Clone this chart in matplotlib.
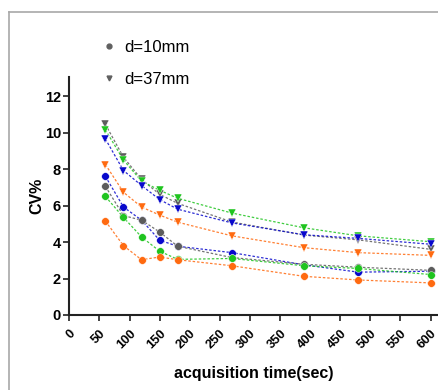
import numpy as np
import matplotlib
matplotlib.use("Agg")
import matplotlib.pyplot as plt
from matplotlib.lines import Line2D

plt.rcParams["font.family"] = ["Liberation Sans", "DejaVu Sans"]

# acquisition times (sec)
times = [60, 90, 120, 150, 180, 270, 390, 480, 600]

# CV% for d=10mm (circles)
gray_10 = [7.05, 5.45, 5.2, 4.55, 3.77, 3.15, 2.78, 2.62, 2.45]
blue_10 = [7.6, 5.92, 5.2, 4.1, 3.77, 3.42, 2.75, 2.35, 2.4]
green_10 = [6.5, 5.35, 4.28, 3.5, 3.05, 3.1, 2.7, 2.55, 2.22]
orange_10 = [5.15, 3.8, 3.03, 3.18, 3.03, 2.7, 2.12, 1.92, 1.76]

# CV% for d=37mm (triangles)
gray_37 = [10.45, 8.65, 7.43, 6.62, 6.12, 5.1, 4.38, 4.12, 3.6]
green_37 = [10.15, 8.5, 7.34, 6.84, 6.4, 5.59, 4.78, 4.34, 4.02]
blue_37 = [9.65, 7.92, 7.1, 6.33, 5.8, 5.05, 4.4, 4.2, 3.88]
orange_37 = [8.25, 6.73, 5.92, 5.48, 5.09, 4.34, 3.69, 3.42, 3.27]

xticks = list(range(0, 601, 50))
yticks = list(range(0, 13, 2))

colors = {"gray": "#5c5c5c", "blue": "#0808cc", "green": "#1fc41f", "orange": "#ff6a10"}

fig = plt.figure(figsize=(4.39, 3.90), dpi=100)
ax = fig.add_axes([69.3 / 439, 1 - 315 / 390, 1 - 69.3 / 439, (315 - 77) / 390])

series = [
    (gray_37, "gray", "v"), (green_37, "green", "v"), (blue_37, "blue", "v"), (orange_37, "orange", "v"),
    (blue_10, "blue", "o"), (gray_10, "gray", "o"), (green_10, "green", "o"), (orange_10, "orange", "o"),
]
for vals, c, m in series:
    ax.plot(times, vals, linestyle=(0, (2, 1.5)), linewidth=0.9, color=colors[c], alpha=0.85)
    ax.plot(times, vals, linestyle="none", marker=m, markersize=6.3 if m == "v" else 5.5,
            color=colors[c], markeredgecolor="white", markeredgewidth=0.3)

ax.set_xlim(0, 614)
ax.set_ylim(0, 13.05)
ax.set_xticks(xticks)
ax.set_yticks(yticks)
ax.set_xticklabels([str(t) for t in xticks], rotation=45, ha="right", va="top",
                   rotation_mode="anchor", fontweight="bold", fontsize=9.3)
ax.set_yticklabels([str(t) for t in yticks], fontweight="bold", fontsize=10.5)
ax.tick_params(axis="both", direction="out", length=4, width=1.2, color="#222222", pad=2)
ax.tick_params(axis="x", pad=5)
for s in ["top", "right"]:
    ax.spines[s].set_visible(False)
for s in ["left", "bottom"]:
    ax.spines[s].set_linewidth(1.5)
    ax.spines[s].set_color("#222222")

ax.set_xlabel("acquisition time(sec)", fontweight="bold", fontsize=11.5, labelpad=11)
ax.set_ylabel("CV%", fontweight="bold", fontsize=11.5, labelpad=0)

handles = [
    Line2D([], [], linestyle="none", marker="o", markersize=3.5, color="#606060"),
    Line2D([], [], linestyle="none", marker="v", markersize=3.5, color="#606060"),
]
fig.legend(handles, ["d=10mm", "d=37mm"], loc="upper left", bbox_to_anchor=(94 / 439, 1 - 33 / 390),
           frameon=False, fontsize=12, handlelength=1.0, handletextpad=0.4, labelspacing=1.05,
           borderaxespad=0)

# outer frame border (top and left edges)
fig.add_artist(Line2D([9.5 / 439, 1], [1 - 12 / 390, 1 - 12 / 390], transform=fig.transFigure,
                      color="#a8a8a8", linewidth=1.2))
fig.add_artist(Line2D([9.5 / 439, 9.5 / 439], [0, 1 - 12 / 390], transform=fig.transFigure,
                      color="#a8a8a8", linewidth=1.2))

fig.savefig("out.png", dpi=100)
